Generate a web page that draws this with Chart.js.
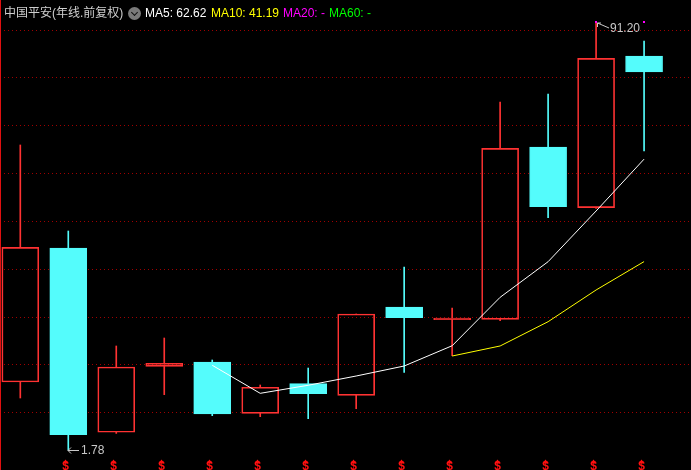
<!DOCTYPE html>
<html>
<head>
<meta charset="utf-8">
<script src="https://cdn.jsdelivr.net/npm/chart.js@4.4.1/dist/chart.umd.min.js"></script>
<style>
  html, body { margin: 0; padding: 0; background: #000; }
  #wrap { position: relative; width: 691px; height: 470px; background: #000; overflow: hidden; }
  #kChart { position: absolute; left: 0; top: 0; }
  .hdr { position: absolute; top: 5px; font: 12px Arial, "Liberation Sans", "Noto Sans CJK SC", sans-serif; white-space: nowrap; line-height: 16px; }
  .icon { position: absolute; left: 128px; top: 7px; width: 13px; height: 13px; border-radius: 50%; background: #7a7a7a; }
  .icon::after { content: ''; position: absolute; left: 4px; top: 3px; width: 4px; height: 4px; border-right: 1.5px solid #111; border-bottom: 1.5px solid #111; transform: rotate(45deg); }
</style>
</head>
<body>
<div id="wrap">
  <canvas id="kChart" width="691" height="470"></canvas>
  <span class="hdr" style="left:4px;color:#cfcfcf">中国平安(年线.前复权)</span>
  <span class="icon"></span>
  <span class="hdr" style="left:145px;color:#ffffff">MA5: 62.62</span>
  <span class="hdr" style="left:211px;color:#ffff00">MA10: 41.19</span>
  <span class="hdr" style="left:283px;color:#ff00ff">MA20: -</span>
  <span class="hdr" style="left:329px;color:#00ff00">MA60: -</span>
</div>
<script>
// ─── DATA ─────────────────────────────────────────────────────────────────────
const OPEN  = [16.00, 44.03,  5.49, 19.29, 20.19,  9.46, 15.65, 13.22, 31.69, 29.04, 29.12, 65.16, 52.47, 84.19];
const CLOSE = [44.18,  4.98, 19.14, 19.92,  9.31, 14.90, 13.56, 30.23, 29.46, 29.39, 64.88, 52.67, 83.71, 80.85];
const HIGH  = [65.58, 47.59, 23.54, 25.21, 20.61, 15.38, 18.93, 30.23, 40.06, 31.48, 74.57, 76.24, 91.20, 87.33];
const LOW   = [12.66,  1.78,  5.25, 13.35,  8.96,  8.75,  8.33, 10.42, 18.03, 21.50, 28.83, 50.37, 52.30, 64.32];
const MA5   = [null, null, null, null, 19.50, 13.64, 15.32, 17.26, 19.35, 23.59, 33.72, 41.17, 51.77, 62.62];
const MA10  = [null, null, null, null, null, null, null, null, null, 21.44, 23.54, 28.62, 35.25, 41.19];
const GRID_LEVELS = [89.6, 79.6, 69.6, 59.6, 49.6, 39.6, 29.6, 19.6, 9.6];
const DIV_MARKS = [1, 2, 3, 4, 5, 6, 7, 8, 9, 10, 11, 12, 13];
const TOP_MARKS = [12, 13];
const MAX_LABEL = { i: 12, v: 91.20, text: '91.20' };
const MIN_LABEL = { i: 1, v: 1.78, text: '1.78' };

const UP = '#ff3232', DOWN = '#54fcfc';
const idx = OPEN.map((_, i) => i);
const isUp = i => CLOSE[i] >= OPEN[i];
const thin = i => Math.abs(CLOSE[i] - OPEN[i]) < 0.5;

// ─── DATASETS ─────────────────────────────────────────────────────────────────
const bodies = idx.map(i => ({ x: i, y: [OPEN[i], CLOSE[i]] }));
const upperWick = idx.map(i => ({ x: i, y: [Math.max(OPEN[i], CLOSE[i]), HIGH[i]] }));
const lowerWick = idx.map(i => ({ x: i, y: [LOW[i], Math.min(OPEN[i], CLOSE[i])] }));
const line = arr => idx.filter(i => arr[i] !== null).map(i => ({ x: i, y: arr[i] }));
const wickColors = idx.map(i => isUp(i) ? UP : DOWN);

// ─── EXTRA DRAWING ────────────────────────────────────────────────────────────
const extras = {
  id: 'extras',
  beforeDatasetsDraw(chart) {
    const ctx = chart.ctx;
    ctx.save();
    ctx.strokeStyle = '#e01010'; ctx.lineWidth = 1;
    ctx.beginPath(); ctx.moveTo(0.5, 0); ctx.lineTo(0.5, 470); ctx.stroke();
    ctx.restore();
  },
  afterDatasetsDraw(chart) {
    const { ctx, scales: { x, y } } = chart;
    ctx.save();
    // extreme labels
    ctx.strokeStyle = '#c8c8c8'; ctx.fillStyle = '#c8c8c8'; ctx.lineWidth = 1;
    ctx.font = '12px Arial, "Liberation Sans", sans-serif'; ctx.textBaseline = 'middle';
    let px = Math.round(x.getPixelForValue(MAX_LABEL.i)), py = Math.round(y.getPixelForValue(MAX_LABEL.v));
    ctx.beginPath();
    ctx.moveTo(px + 1.5, py + 1); ctx.lineTo(px + 5, py + 1);
    ctx.moveTo(px + 1.5, py + 1); ctx.lineTo(px + 1.5, py + 5);
    ctx.moveTo(px + 1.5, py + 1); ctx.lineTo(px + 13, py + 6);
    ctx.stroke();
    ctx.fillText(MAX_LABEL.text, px + 14, py + 7);
    px = Math.round(x.getPixelForValue(MIN_LABEL.i)); py = Math.round(y.getPixelForValue(MIN_LABEL.v));
    ctx.beginPath();
    ctx.moveTo(px, py + 0.5); ctx.lineTo(px + 11, py + 0.5);
    ctx.moveTo(px, py + 0.5); ctx.lineTo(px + 3, py - 2.5);
    ctx.moveTo(px, py + 0.5); ctx.lineTo(px + 3, py + 3.5);
    ctx.stroke();
    ctx.fillText(MIN_LABEL.text, px + 13, py + 1);
    // top magenta marks
    ctx.fillStyle = '#ff00ff';
    TOP_MARKS.forEach(i => ctx.fillRect(Math.round(x.getPixelForValue(i)) - 1, Math.round(y.getPixelForValue(MAX_LABEL.v)) - 1, 2, 2));
    // dividend marks along the bottom
    ctx.fillStyle = '#ff1010'; ctx.font = 'bold 12px Arial, sans-serif'; ctx.textAlign = 'center'; ctx.textBaseline = 'top';
    DIV_MARKS.forEach(i => {
      const cx = Math.round(x.getPixelForValue(i)) - 2.5;
      ctx.beginPath(); ctx.moveTo(cx, 459.5); ctx.lineTo(cx - 3, 463.5); ctx.lineTo(cx + 3, 463.5); ctx.closePath(); ctx.fill();
      ctx.fillText('$', cx, 461);
    });
    ctx.restore();
  }
};

// ─── CHART ────────────────────────────────────────────────────────────────────
new Chart(document.getElementById('kChart'), {
  type: 'bar',
  data: {
    datasets: [
      { type: 'line', data: line(MA5), borderColor: '#ffffff', borderWidth: 1, pointRadius: 0, tension: 0, order: -2 },
      { type: 'line', data: line(MA10), borderColor: '#ffff00', borderWidth: 1, pointRadius: 0, tension: 0, order: -1 },
      { data: bodies, grouped: false, barThickness: 37, borderWidth: 1, borderSkipped: false,
        backgroundColor: idx.map(i => thin(i) ? UP : (isUp(i) ? 'rgba(0,0,0,0)' : DOWN)),
        borderColor: idx.map(i => isUp(i) ? UP : DOWN), order: 0 },
      { data: upperWick, grouped: false, barThickness: 1, borderWidth: 0, backgroundColor: wickColors, order: 1 },
      { data: lowerWick, grouped: false, barThickness: 1, borderWidth: 0, backgroundColor: wickColors, order: 1 }
    ]
  },
  options: {
    responsive: false, animation: false,
    layout: { padding: 0 },
    plugins: { legend: { display: false }, tooltip: { enabled: false } },
    scales: {
      x: { type: 'linear', min: -0.4231, max: 13.978, display: false, offset: false },
      y: { min: -2.400, max: 95.906, display: true,
           afterBuildTicks: s => { s.ticks = GRID_LEVELS.map(v => ({ value: v })); },
           ticks: { display: false },
           grid: { color: '#a00000', lineWidth: 1, drawTicks: false },
           border: { display: false, dash: [1, 3] } }
    }
  },
  plugins: [extras]
});
</script>
</body>
</html>
